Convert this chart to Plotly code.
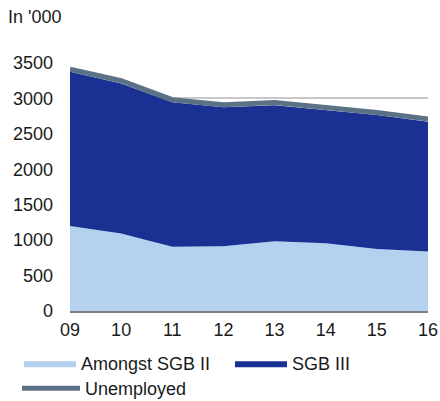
import plotly.graph_objects as go

years = ["09", "10", "11", "12", "13", "14", "15", "16"]
sgb_ii = [1200, 1095, 905, 915, 985, 955, 875, 840]
sgb_iii = [2175, 2115, 2040, 1960, 1920, 1880, 1890, 1830]
unemployed = [3413, 3250, 2982, 2911, 2943, 2873, 2802, 2708]

COLORS = {
    'light': '#b4d1f0',
    'dark': '#1a3092',
    'line': '#5b7286',
    'grid': '#c8c8c8',
    'axis': '#808080',
    'text': '#1a1a1a',
}

fig = go.Figure()

fig.add_trace(go.Scatter(
    x=years, y=sgb_ii, name='Amongst SGB II',
    mode='lines', stackgroup='one', legend='legend',
    line=dict(width=0, color=COLORS['light']),
    fillcolor=COLORS['light'],
))
fig.add_trace(go.Scatter(
    x=years, y=sgb_iii, name='SGB III',
    mode='lines', stackgroup='one', legend='legend',
    line=dict(width=0, color=COLORS['dark']),
    fillcolor=COLORS['dark'],
))
fig.add_trace(go.Scatter(
    x=years, y=unemployed, name='Unemployed',
    mode='lines', legend='legend2',
    line=dict(width=5, color=COLORS['line']),
))

legend_style = dict(
    orientation='h', xanchor='left', yanchor='top',
    xref='paper', yref='paper', traceorder='normal',
    font=dict(size=18), tracegroupgap=0, itemclick=False,
    bgcolor='rgba(0,0,0,0)',
)

fig.update_layout(
    width=440, height=401,
    margin=dict(l=70, r=12, t=63, b=90, autoexpand=False),
    paper_bgcolor='white', plot_bgcolor='white',
    font=dict(family='Liberation Sans, Arial, sans-serif', size=18, color=COLORS['text']),
    showlegend=True,
    legend=dict(legend_style, x=-0.1425, y=-0.137, itemwidth=52, entrywidth=144),
    legend2=dict(legend_style, x=-0.148, y=-0.238, itemwidth=58),
    annotations=[dict(
        text="In '000", xref='paper', yref='paper', x=-0.178, y=1.185,
        xanchor='left', yanchor='middle', showarrow=False, font=dict(size=18),
    )],
)

fig.update_xaxes(
    type='category', range=[0, 7], showgrid=False, automargin=False,
    showline=True, linecolor=COLORS['axis'], linewidth=1.5,
    ticks='', ticklabelstandoff=2,
)
fig.update_yaxes(
    range=[0, 3500], dtick=500, showgrid=True, gridcolor=COLORS['grid'],
    gridwidth=1.5, zeroline=False, showline=False, ticks='', automargin=False,
    ticklabelstandoff=16,
)

# drop the default body margin so the 440x401 figure fills the window
fig.write_html(
    "out.html",
    config={'displayModeBar': False},
    post_script="document.body.style.margin='0';",
)
